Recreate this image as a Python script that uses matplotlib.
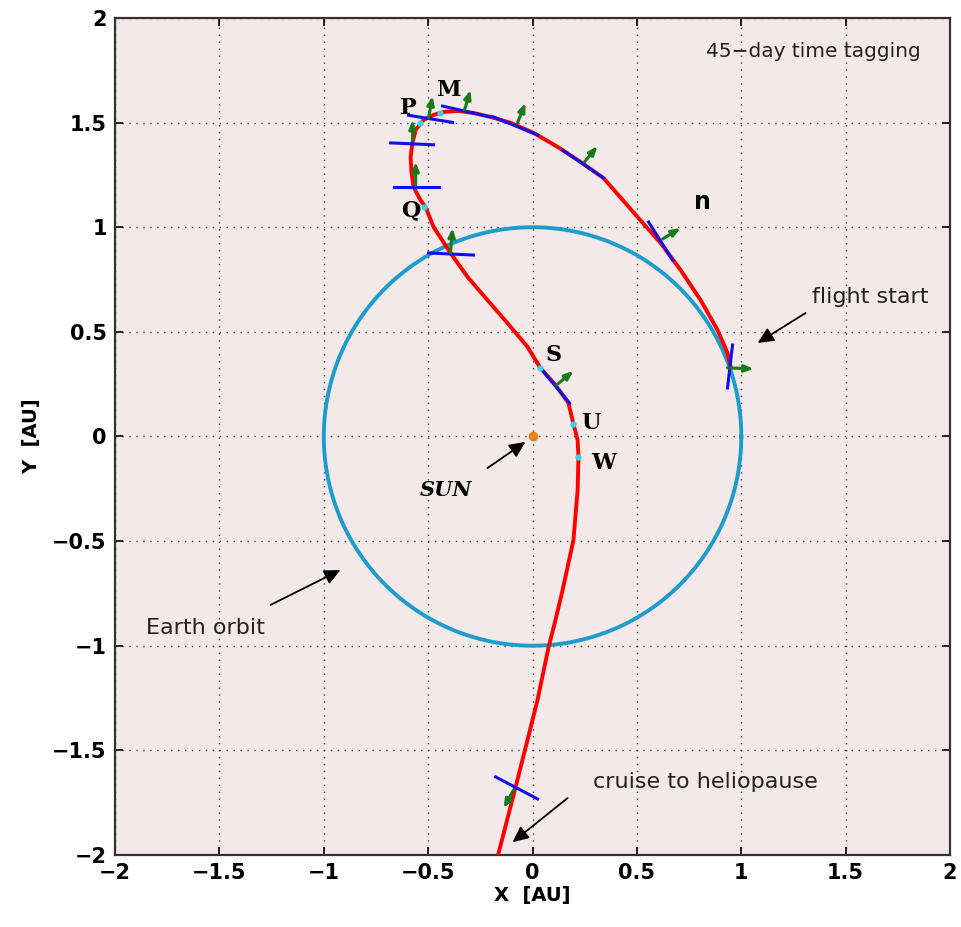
import numpy as np
import matplotlib
matplotlib.use("Agg")
from matplotlib import pyplot as plt

# trajectory (AU), from flight start outwards
traj_x = [0.949, 0.934, 0.886, 0.805, 0.709, 0.613, 0.503, 0.340, 0.230, 0.120,
          0.005, -0.105, -0.201, -0.283, -0.359, -0.426, -0.474, -0.522, -0.560, -0.575,
          -0.584, -0.580, -0.570, -0.537, -0.513, -0.474, -0.393, -0.311, -0.216, -0.120,
          -0.024, 0.038, 0.110, 0.172, 0.196, 0.216, 0.220, 0.216, 0.196, 0.144,
          0.110, 0.077, 0.024, -0.024, -0.081, -0.165]
traj_y = [0.332, 0.399, 0.509, 0.652, 0.796, 0.925, 1.049, 1.235, 1.312, 1.384,
          1.451, 1.499, 1.527, 1.546, 1.556, 1.551, 1.537, 1.513, 1.465, 1.403,
          1.336, 1.264, 1.192, 1.130, 1.097, 1.001, 0.877, 0.762, 0.652, 0.542,
          0.428, 0.327, 0.246, 0.160, 0.060, -0.017, -0.098, -0.256, -0.495, -0.734,
          -0.877, -1.006, -1.259, -1.450, -1.675, -2.0]

# sail attitude segments (x0, y0, x1, y1)
sail_x0 = [0.958, 0.556, 0.144, -0.187, -0.431, -0.594, -0.680, -0.666, -0.498, 0.038, -0.177]
sail_y0 = [0.437, 1.025, 1.369, 1.527, 1.579, 1.535, 1.403, 1.192, 0.877, 0.327, -1.627]
sail_x1 = [0.934, 0.671, 0.340, 0.024, -0.201, -0.383, -0.474, -0.450, -0.283, 0.177, 0.024]
sail_y1 = [0.232, 0.843, 1.235, 1.441, 1.527, 1.501, 1.394, 1.192, 0.867, 0.160, -1.732]

# sail normal vectors (start and end)
nrm_x0 = [0.934, 0.623, 0.249, -0.072, -0.326, -0.498, -0.575, -0.560, -0.393, 0.115, -0.091]
nrm_y0 = [0.328, 0.944, 1.312, 1.499, 1.560, 1.522, 1.413, 1.202, 0.877, 0.246, -1.690]
nrm_x1 = [1.059, 0.709, 0.311, -0.034, -0.297, -0.479, -0.575, -0.560, -0.383, 0.196, -0.139]
nrm_y1 = [0.323, 0.996, 1.388, 1.594, 1.656, 1.627, 1.513, 1.312, 0.996, 0.313, -1.776]

# cyan time tags
tag_x = [-0.445, -0.537, -0.522, 0.038, 0.196, 0.220]
tag_y = [1.546, 1.499, 1.097, 0.327, 0.060, -0.098]

point_names = ["M", "P", "Q", "S", "U", "W"]
point_lx = [-0.402, -0.594, -0.584, 0.101, 0.278, 0.340]
point_ly = [1.655, 1.570, 1.082, 0.389, 0.065, -0.127]

fig = plt.figure(figsize=(9.61, 9.27), dpi=100)
ax = fig.add_axes([0.1197, 0.0777, 0.8689, 0.9029])
ax.set_facecolor("#f3e9e9")

# Earth orbit
th = np.linspace(0, 2 * np.pi, 400)
ax.plot(np.cos(th), np.sin(th), color="#1e9ccc", lw=2.8, zorder=2)

ax.plot(traj_x, traj_y, color="red", lw=2.8, zorder=3, solid_joinstyle="round")

for i in range(len(sail_x0)):
    ax.plot([sail_x0[i], sail_x1[i]], [sail_y0[i], sail_y1[i]], color="#1010ee", lw=2.2, zorder=4)
    ax.annotate("", xy=(nrm_x1[i], nrm_y1[i]), xytext=(nrm_x0[i], nrm_y0[i]),
                arrowprops=dict(arrowstyle="-|>,head_length=0.5,head_width=0.2",
                                color="#1a7a1a", lw=2.2, shrinkA=0, shrinkB=0), zorder=5)

ax.plot(tag_x, tag_y, "o", color="#33d6e6", ms=3.5, zorder=6)

# sun
ax.plot(0, 0, "o", color="#e0851f", ms=6, zorder=6)

for name, lx, ly in zip(point_names, point_lx, point_ly):
    ax.text(lx, ly, name, family="DejaVu Serif", fontweight="bold", fontsize=16,
            ha="center", va="center")
ax.text(0.814, 1.121, "n", fontweight="bold", fontsize=17, ha="center", va="center")
ax.text(-0.417, -0.256, "SUN", family="DejaVu Serif", fontweight="bold", style="italic",
        fontsize=15, ha="center", va="center")

ax.text(1.86, 1.84, "45\u2212day time tagging", fontsize=14.5, ha="right", va="center", color="#222222")

# annotation texts and their arrows
ax.text(1.619, 0.667, "flight start", fontsize=16, ha="center", va="center", color="#222222")
ax.text(-1.566, -0.915, "Earth orbit", fontsize=16, ha="center", va="center", color="#222222")
ax.text(0.829, -1.651, "cruise to heliopause", fontsize=16, ha="center", va="center", color="#222222")

arr_tail_x = [1.308, -0.216, -1.255, 0.168]
arr_tail_y = [0.590, -0.151, -0.805, -1.728]
arr_head_x = [1.078, -0.034, -0.920, -0.096]
arr_head_y = [0.447, -0.026, -0.638, -1.939]
for tx, ty, hx, hy in zip(arr_tail_x, arr_tail_y, arr_head_x, arr_head_y):
    ax.annotate("", xy=(hx, hy), xytext=(tx, ty), fontsize=16,
                arrowprops=dict(arrowstyle="-|>,head_length=0.6,head_width=0.28",
                                color="black", lw=1.3, shrinkA=0, shrinkB=0))

ticks = np.arange(-2, 2.01, 0.5)
ax.set_xlim(-2, 2)
ax.set_ylim(-2, 2)
ax.set_xticks(ticks)
ax.set_yticks(ticks)
labels = ["\u22122", "\u22121.5", "\u22121", "\u22120.5", "0", "0.5", "1", "1.5", "2"]
ax.set_xticklabels(labels, fontsize=15, fontweight="bold")
ax.set_yticklabels(labels, fontsize=15, fontweight="bold")
ax.tick_params(direction="in", length=6, top=True, right=True, width=1.2, pad=6)
ax.grid(True, color="#444444", linestyle=(0, (1, 4)), lw=1.0)
for s in ax.spines.values():
    s.set_linewidth(1.6)
    s.set_color("#333333")
ax.set_xlabel("X  [AU]", fontsize=14, fontweight="bold", labelpad=2)
ax.set_ylabel("Y  [AU]", fontsize=14, fontweight="bold", labelpad=8)

fig.savefig("out.png", dpi=100)
